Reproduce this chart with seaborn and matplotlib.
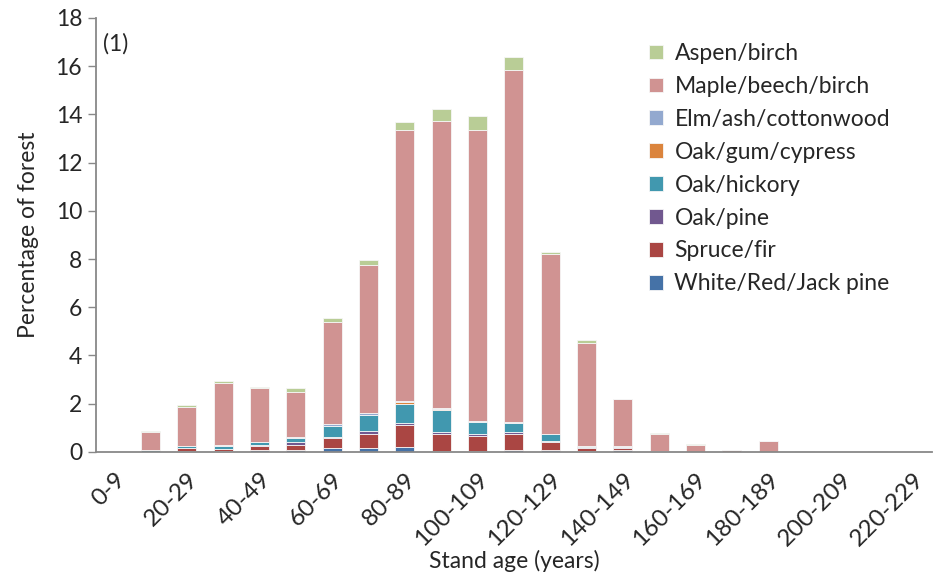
import numpy as np
import pandas as pd
import matplotlib
matplotlib.use("Agg")
import matplotlib.pyplot as plt
import seaborn as sns

# stand age classes
ages = [f"{a}-{a + 9}" for a in range(0, 230, 10)]

# forest type shares (% of forest), bottom of the stack first
white_red_jack = [0, 0, 0.02, 0.02, 0.08, 0.07, 0.14, 0.14, 0.21, 0.04, 0.03, 0.08,
                  0.07, 0.05, 0.07, 0.01, 0, 0, 0, 0, 0, 0, 0]
spruce_fir = [0, 0, 0.12, 0.09, 0.15, 0.22, 0.42, 0.62, 0.90, 0.69, 0.62, 0.65,
              0.32, 0.11, 0.10, 0.01, 0, 0, 0, 0, 0, 0, 0]
oak_pine = [0, 0, 0.01, 0.01, 0.05, 0.10, 0.07, 0.10, 0.10, 0.10, 0.11, 0.10,
            0.05, 0.04, 0.04, 0, 0, 0, 0, 0, 0, 0, 0]
oak_hickory = [0, 0.07, 0.08, 0.12, 0.11, 0.18, 0.46, 0.65, 0.77, 0.91, 0.46, 0.35,
               0.28, 0.03, 0.01, 0.01, 0, 0, 0, 0, 0, 0, 0]
oak_gum = [0, 0, 0, 0, 0, 0, 0, 0.01, 0.10, 0.05, 0.01, 0,
           0, 0, 0, 0, 0, 0, 0, 0, 0, 0, 0]
elm_ash = [0, 0.02, 0.02, 0.03, 0.03, 0.03, 0.08, 0.08, 0.02, 0.04, 0.06, 0.04,
           0.02, 0.03, 0.02, 0, 0, 0, 0, 0, 0, 0, 0]
maple_beech = [0, 0.72, 1.62, 2.60, 2.23, 1.90, 4.23, 6.17, 11.27, 11.91, 12.08, 14.64,
               7.47, 4.24, 1.94, 0.73, 0.30, 0.08, 0.46, 0.04, 0, 0.04, 0]
aspen_birch = [0, 0.05, 0.07, 0.08, 0.03, 0.15, 0.15, 0.17, 0.33, 0.50, 0.58, 0.54,
               0.10, 0.15, 0.02, 0.03, 0.01, 0.01, 0, 0, 0, 0, 0]

series = [
    ("White/Red/Jack pine", white_red_jack, "#4572A7"),
    ("Spruce/fir", spruce_fir, "#AA4643"),
    ("Oak/pine", oak_pine, "#71588F"),
    ("Oak/hickory", oak_hickory, "#4198AF"),
    ("Oak/gum/cypress", oak_gum, "#DB843D"),
    ("Elm/ash/cottonwood", elm_ash, "#93A9CF"),
    ("Maple/beech/birch", maple_beech, "#D09392"),
    ("Aspen/birch", aspen_birch, "#B9CD96"),
]

sns.set_style("white")
plt.rcParams["font.family"] = ["Lato", "DejaVu Sans"]

fig = plt.figure(figsize=(9.42, 5.8), dpi=100)
ax = fig.add_axes([0.102, 0.221, 0.887, 0.748])

bottom = np.zeros(len(ages))
for name, vals, col in series:
    df = pd.DataFrame({"age": ages, "pct": vals})
    sns.barplot(data=df, x="age", y="pct", bottom=bottom, color=col, label=name,
                width=0.52, errorbar=None, saturation=1, edgecolor="#f6f6f6",
                linewidth=0.6, ax=ax)
    bottom = bottom + np.array(vals)

ax.set_xlim(-0.5, len(ages) - 0.5)
ax.set_ylim(0, 18)
ax.set_yticks(range(0, 19, 2))
ax.set_xticks(range(0, len(ages), 2))
ax.set_xticklabels(ages[::2], rotation=45, ha="right", rotation_mode="anchor")
ax.set_xticks(np.arange(-0.5, len(ages), 1), minor=True)
ax.tick_params(axis="x", which="major", length=0, labelsize=17.5, pad=12)
ax.tick_params(axis="x", which="minor", length=6, width=1, color="#888888", direction="out")
ax.tick_params(axis="y", length=6, width=1, color="#888888", direction="out", labelsize=16.5,
               left=True, pad=4)

for s in ["top", "right"]:
    ax.spines[s].set_visible(False)
for s in ["left", "bottom"]:
    ax.spines[s].set_color("#888888")
    ax.spines[s].set_linewidth(1.3)

ax.set_xlabel("Stand age (years)", fontsize=16.5, labelpad=0)
ax.set_ylabel("Percentage of forest", fontsize=16.5, labelpad=12)
ax.text(0.008, 0.94, "(1)", transform=ax.transAxes, fontsize=16.5, va="center")

h, l = ax.get_legend_handles_labels()
ax.legend(h[::-1], l[::-1], loc="upper right", bbox_to_anchor=(0.975, 0.99), frameon=False,
          fontsize=16.5, handlelength=0.6, handleheight=0.6, handletextpad=0.5,
          labelspacing=0.52)

fig.savefig("out.png", dpi=100)
